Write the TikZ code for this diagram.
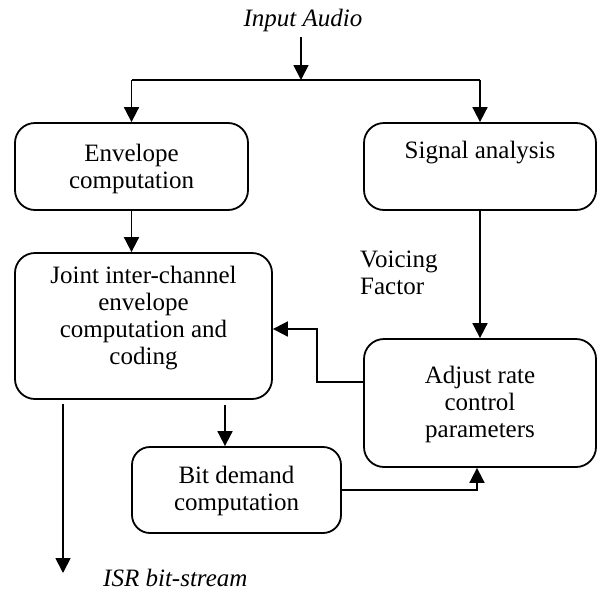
\documentclass[tikz,border=0pt]{standalone}
\usepackage{fontspec}
\setmainfont{Liberation Serif}
\usetikzlibrary{arrows.meta}
\begin{document}
\begin{tikzpicture}[x=1pt,y=-1pt,
  box/.style={draw, line width=1.8pt, rounded corners=20pt, inner sep=0pt},
  txt/.style={align=center, font=\fontsize{25}{27}\selectfont, inner sep=0pt},
  itxt/.style={txt, font=\fontsize{25}{27}\selectfont\itshape},
  flow/.style={line width=1.8pt, -{Triangle[length=15pt,width=15pt]}},
  wire/.style={line width=1.8pt}]
\useasboundingbox (0,0) rectangle (597,592);

% processing blocks
\node[box, minimum width=233pt, minimum height=87pt]  (env)    at (131.5,166.5) {};
\node[box, minimum width=232pt, minimum height=87pt]  (signal) at (480,166.5) {};
\node[box, minimum width=257pt, minimum height=146pt] (joint)  at (143.5,326) {};
\node[box, minimum width=232pt, minimum height=128pt] (adjust) at (480,403) {};
\node[box, minimum width=209pt, minimum height=86pt, rounded corners=18pt] (bitd) at (236.5,490) {};

% block texts
\node[txt] (envT)    at (131.5,168.5) {Envelope\\computation};
\node[txt] (signalT) at (480,153) {Signal analysis};
\node[txt] (jointT)  at (143.5,318) {Joint inter-channel\\envelope\\computation and\\coding};
\node[txt] (adjustT) at (480,404) {Adjust rate\\control\\parameters};
\node[txt] (bitdT)   at (236.5,491) {Bit demand\\computation};

% free labels
\node[itxt] (input) at (303,20) {Input Audio};
\node[txt, align=left, anchor=west] (voicing) at (360,272.5) {Voicing\\Factor};
\node[itxt, anchor=west] (isr) at (103,578) {ISR bit-stream};

% input split
\coordinate (inTop) at (301,37);
\coordinate (split) at (301,80);
\draw[flow] (inTop) -- (split);
\draw[wire] (env.north |- split) -- (signal.north |- split);
\draw[flow] (env.north |- split) -- (env.north);
\draw[flow] (signal.north |- split) -- (signal.north);

% main connections
\draw[flow] (env.south) -- (env.south |- joint.north);
\draw[flow] (signal.south) -- (adjust.north);
\draw[flow] ([yshift=21pt]adjust.west) -- ++(-46,0) |- ([yshift=-3pt]joint.east);
\draw[flow] ([xshift=81.5pt,yshift=-5pt]joint.south) -- ([xshift=-11.5pt]bitd.north);
\draw[flow] (bitd.east) -| ([xshift=-3pt]adjust.south);

% output stream
\coordinate (isrTip) at (63,573);
\draw[flow] ([xshift=-80.5pt,yshift=-4pt]joint.south) -- (isrTip);
\end{tikzpicture}
\end{document}
